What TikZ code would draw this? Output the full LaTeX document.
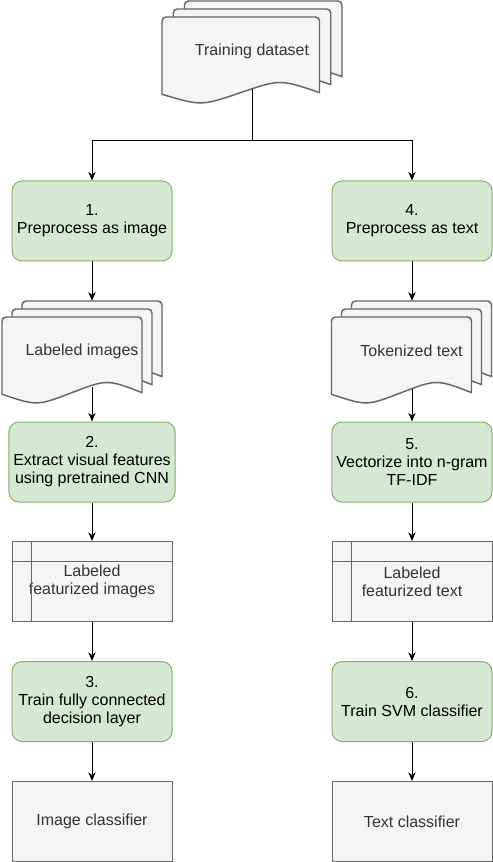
\documentclass[tikz,border=0pt]{standalone}
\usepackage{fontspec}
\setmainfont{Liberation Sans}
\usetikzlibrary{arrows.meta}

\definecolor{greenfill}{HTML}{D5E8D4}
\definecolor{greenline}{HTML}{82B366}
\definecolor{grayfill}{HTML}{F5F5F5}
\definecolor{grayline}{HTML}{666666}
\definecolor{graytext}{HTML}{333333}

\tikzset{
  boxfont/.style={font=\fontsize{12}{13.5}\selectfont},
  stepbox/.style={boxfont, draw=greenline, fill=greenfill, rounded corners=7.5pt,
    minimum width=120pt, minimum height=60pt, align=center, line width=0.75pt},
  databox/.style={boxfont, draw=grayline, fill=grayfill, text=graytext,
    minimum width=120pt, minimum height=60pt, align=center, line width=0.75pt},
  doclabel/.style={boxfont, text=graytext, minimum width=120pt, minimum height=75pt},
  sheet/.style={draw=grayline, fill=grayfill, line width=1.1pt},
  arr/.style={-{Stealth[length=6.5pt,width=5.5pt]}, line width=0.75pt}
}

% one sheet of a document stack: top left x, top left y, width, height
\newcommand{\docsheet}[4]{%
  \draw[sheet] ({#1},{#2+0.92*#4}) [rounded corners=3pt] -- ({#1},{#2}) -- ({#1+#3},{#2})
    [sharp corners] -- ({#1+#3},{#2+0.9*#4})
    .. controls ({#1+0.75*#3},{#2+0.74*#4}) .. ({#1+0.5*#3},{#2+0.9*#4})
    .. controls ({#1+0.25*#3},{#2+1.06*#4}) .. ({#1},{#2+0.92*#4}) -- cycle;}

% three sheets: centre x, centre y, total width, total height
\newcommand{\docstack}[4]{%
  \foreach \k in {2,1,0} {
    \pgfmathsetmacro\sx{#1-0.5*#3+\k*0.0625*#3}
    \pgfmathsetmacro\sy{#2-0.5*#4+(2-\k)*0.08*#4}
    \docsheet{\sx}{\sy}{0.875*#3}{0.84*#4}
  }}

\begin{document}
\begin{tikzpicture}[x=0.75pt,y=-0.75pt]
  \useasboundingbox (0,0) rectangle (492,862);

  % input
  \docstack{252}{51}{180}{100}
  \node[doclabel, minimum width=135pt] (dataset) at (252,51) {Training dataset};
  \coordinate (dataset-out) at (252,89);
  \coordinate (fork) at (252,141);

  % image branch
  \node[stepbox] (prepimg) at (92,221) {1.\\Preprocess as image};
  \docstack{82}{351}{160}{100}
  \node[doclabel] (labimg) at (82,351) {Labeled images};
  \coordinate (labimg-out) at (92,387);
  \node[stepbox] (extract) at (92,462) {2.\\Extract visual features\\using pretrained CNN};
  \node[databox] (featimg) at (92,581.5) {Labeled\\featurized images};
  \node[stepbox] (trainfc) at (92,701.5) {3.\\Train fully connected\\decision layer};
  \node[databox] (imgcls) at (92,821.5) {Image classifier};

  % text branch
  \node[stepbox] (preptxt) at (412,221) {4.\\Preprocess as text};
  \docstack{411.5}{351}{160}{100}
  \node[doclabel] (toktxt) at (411.5,351) {Tokenized text};
  \coordinate (toktxt-out) at (412,389);
  \node[stepbox] (vector) at (412,462) {5.\\Vectorize into n-gram\\TF-IDF};
  \node[databox] (feattxt) at (412,581.5) {Labeled\\featurized text};
  \node[stepbox] (trainsvm) at (412,701.5) {6.\\Train SVM classifier};
  \node[databox] (txtcls) at (412,821.5) {Text classifier};

  % storage lines
  \foreach \s in {featimg,feattxt} {
    \draw[grayline, line width=0.75pt] ([xshift=15pt]\s.north west) -- ([xshift=15pt]\s.south west);
    \draw[grayline, line width=0.75pt] ([yshift=-15pt]\s.north west) -- ([yshift=-15pt]\s.north east);
  }

  % connectors
  \draw[arr] (dataset-out) -- (fork) -| (prepimg);
  \draw[arr] (fork) -| (preptxt);
  \draw[arr] (prepimg) -- (prepimg |- labimg.north);
  \draw[arr] (labimg-out) -- (extract);
  \draw[arr] (extract) -- (featimg);
  \draw[arr] (featimg) -- (trainfc);
  \draw[arr] (trainfc) -- (imgcls);
  \draw[arr] (preptxt) -- (preptxt |- toktxt.north);
  \draw[arr] (toktxt-out) -- (vector);
  \draw[arr] (vector) -- (feattxt);
  \draw[arr] (feattxt) -- (trainsvm);
  \draw[arr] (trainsvm) -- (txtcls);
\end{tikzpicture}
\end{document}
